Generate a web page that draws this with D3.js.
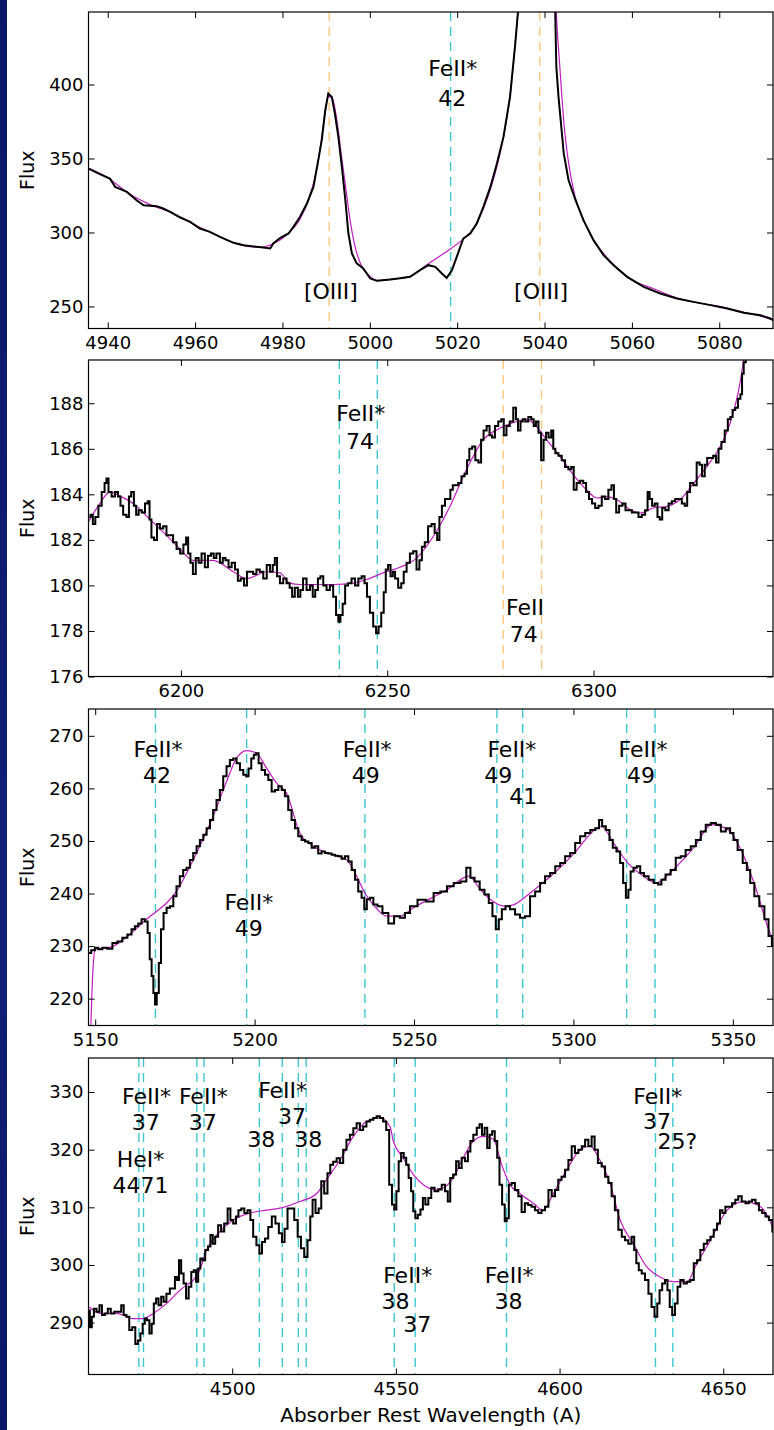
<!DOCTYPE html>
<html>
<head>
<meta charset="utf-8">
<script src="https://d3js.org/d3.v7.min.js"></script>
<style>
  body { margin: 0; background: #fff; }
  svg { display: block; font-family: "DejaVu Sans", sans-serif; }
  .tick text { font-size: 18px; fill: #000; font-family: "DejaVu Sans", sans-serif; }
  .tick line { stroke: #000; }
  .note { font-size: 22px; fill: #000; }
  .lab { font-size: 19px; fill: #000; }
  .xlab { font-size: 20px; fill: #000; }
</style>
</head>
<body>
<script>
// ---------- data (wavelength, flux) ----------
var p1Spec = [[4935.6,343.2],[4938.2,339.4],[4940.5,336.5],[4941.7,330.8],[4944.4,327.4],[4946.6,321.8],[4948.2,318.4],
  [4951.2,317.8],[4952.7,316.2],[4954.3,313.9],[4956.6,310.1],[4958.9,307.2],[4961.1,302.7],[4963.4,300.4],[4965.7,297.0],
  [4968.8,293.0],[4971.1,291.4],[4974.1,290.3],[4975.6,289.9],[4977.2,289.2],[4977.9,292.6],[4979.5,296.4],[4981.4,299.3],
  [4982.5,303.8],[4984.0,310.5],[4985.6,319.6],[4987.1,330.8],[4988.2,348.9],[4989.0,362.4],[4989.8,382.6],[4990.5,393.9],
  [4991.3,391.6],[4992.0,380.4],[4992.8,364.6],[4993.6,344.3],[4994.4,321.8],[4995.1,299.3],[4995.9,285.8],[4997.0,279.1],
  [4998.5,275.7],[5000.1,268.9],[5001.6,267.3],[5004.7,268.2],[5006.9,269.0],[5009.2,270.0],[5011.5,274.5],[5013.4,277.9],
  [5015.0,276.8],[5016.5,272.3],[5017.6,269.3],[5018.8,274.5],[5019.9,283.5],[5021.4,295.9],[5023.0,299.3],[5024.5,306.1],
  [5026.0,317.3],[5027.6,330.8],[5029.1,346.6],[5030.6,364.6],[5032.1,391.6],[5033.3,427.7],[5034.0,452],[5035.0,520],
  [5036.5,640],[5038.0,820],[5039.0,860],[5040.0,760],[5041.0,600],[5042.3,470],[5042.7,411.9],[5043.2,391.6],[5044.4,353.4],
  [5045.5,335.3],[5047.1,321.8],[5048.9,308.3],[5051.2,294.8],[5053.5,284.7],[5055.8,277.9],[5058.9,270.0],[5062.7,263.2],
  [5066.5,258.8],[5070.3,255.4],[5074.1,253.1],[5078.0,250.9],[5081.8,248.6],[5085.6,245.7],[5089.4,244.1],[5091.7,241.9],
  [5092.6,240.3]];
var p1Model = [[4935.6,343.5],[4940,337],[4945,326],[4950,318.5],[4955,313],[4960,305],[4965,298],[4970,292],[4975,290],
  [4978,292.5],[4981,298.5],[4984,309],[4986,322],[4988,345],[4989.5,375],[4990.5,392],[4991.5,390],[4992.5,375],[4993.5,352],
  [4994.5,330],[4995.5,308],[4996.5,292],[4998,278],[5000,270.5],[5002,267.5],[5005,268.5],[5009,270],[5013,278],[5017,286],
  [5021,294.5],[5023,300],[5026,316],[5028,333],[5030,356],[5032,390],[5033.3,428],[5034.2,460],[5036,560],[5038.8,800],
  [5041.5,560],[5042.5,460],[5043.5,412],[5044.5,372],[5045.5,347],[5047,324],[5049,308],[5051,296],[5054,284],[5057,275],
  [5060,268],[5065,262],[5070,256],[5075,252.5],[5080,250],[5085,246.5],[5090,243],[5092.6,240.5]];

var p2Spec = [[6177.8,183.0],[6178.4,183.1],[6178.9,182.7],[6179.6,183.0],[6180.4,183.5],[6181.2,184.1],[6181.8,184.5],
  [6182.1,184.7],[6182.8,184.1],[6183.6,183.9],[6184.4,184.1],[6185.1,183.9],[6185.6,183.5],[6186.4,183.1],[6187.2,183.0],
  [6187.6,183.9],[6188.3,184.1],[6188.9,183.5],[6189.4,183.1],[6190.1,183.3],[6190.9,183.2],[6191.7,183.6],[6192.2,183.7],
  [6192.6,182.9],[6193.1,182.1],[6193.9,182.0],[6194.5,182.7],[6195.3,182.5],[6196.1,182.6],[6196.9,182.2],[6197.7,182.2],
  [6198.5,181.9],[6199.4,181.6],[6200.2,181.4],[6201.0,181.8],[6201.5,182.1],[6202.0,181.4],[6202.6,181.0],[6203.2,180.5],
  [6204.0,181.2],[6204.6,181.0],[6205.4,181.4],[6206.2,180.8],[6206.9,181.3],[6207.7,181.4],[6208.2,181.2],[6209.0,181.4],
  [6209.9,181.0],[6210.4,181.2],[6211.2,181.1],[6211.9,180.8],[6212.7,181.0],[6213.5,180.7],[6214.1,180.2],[6214.9,180.3],
  [6215.7,180.0],[6216.3,180.6],[6217.1,180.6],[6217.9,180.5],[6218.7,180.7],[6219.5,180.6],[6220.4,180.3],[6221.2,180.9],
  [6222.0,180.6],[6222.5,180.9],[6223.0,181.2],[6223.6,180.4],[6224.4,180.1],[6225.2,180.3],[6226.0,180.1],[6226.7,179.9],
  [6227.2,179.5],[6228.0,179.9],[6228.7,179.5],[6229.2,179.8],[6230.0,180.3],[6230.9,179.8],[6231.7,180.0],[6232.2,179.5],
  [6232.9,179.8],[6233.5,180.3],[6234.1,180.4],[6234.9,180.0],[6235.7,179.8],[6236.5,180.0],[6237.3,179.5],[6237.9,178.7],
  [6238.4,178.4],[6238.9,178.7],[6239.5,179.2],[6240.1,180.0],[6240.9,180.1],[6241.8,180.3],[6242.6,180.0],[6243.4,180.3],
  [6244.2,180.4],[6244.8,180.1],[6245.4,179.5],[6246.2,178.8],[6247.0,178.2],[6247.6,177.9],[6248.2,178.2],[6248.9,178.8],
  [6249.4,179.7],[6249.9,180.7],[6250.5,180.9],[6251.1,180.4],[6251.6,180.6],[6252.2,180.3],[6253.1,179.9],[6253.7,180.1],
  [6254.3,180.6],[6255.1,181.0],[6255.9,181.4],[6256.7,181.5],[6257.5,180.7],[6258.1,181.1],[6258.7,181.7],[6259.5,181.9],
  [6260.3,182.6],[6261.2,182.7],[6261.8,182.3],[6262.4,182.0],[6262.9,183.0],[6263.6,183.5],[6264.4,183.8],[6265.0,183.8],
  [6265.6,184.2],[6266.2,184.4],[6266.8,184.4],[6267.6,184.5],[6268.4,184.8],[6269.1,184.9],[6269.6,185.5],[6270.2,186.0],
  [6271.0,186.1],[6271.7,185.5],[6272.5,185.4],[6273.0,186.4],[6273.7,186.8],[6274.5,187.0],[6275.1,186.6],[6275.7,186.5],
  [6276.5,187.0],[6277.3,187.2],[6278.0,187.3],[6278.5,186.6],[6279.3,187.0],[6280.1,187.2],[6281.0,187.8],[6281.4,187.3],
  [6282.0,186.8],[6282.6,187.2],[6283.1,187.3],[6283.8,187.2],[6284.6,187.4],[6285.2,187.3],[6285.8,187.0],[6286.3,187.2],
  [6287.0,186.7],[6287.6,185.5],[6288.2,186.4],[6288.8,186.7],[6289.4,186.5],[6290.1,186.8],[6290.4,186.0],[6291.1,185.8],
  [6291.9,185.7],[6292.7,185.5],[6293.5,185.2],[6294.3,185.1],[6294.9,185.2],[6295.5,184.2],[6296.3,184.5],[6297.1,184.6],
  [6297.9,184.5],[6298.5,184.1],[6299.3,183.8],[6300.0,183.6],[6300.8,183.4],[6301.6,183.5],[6302.4,183.9],[6303.2,183.8],
  [6304.0,184.2],[6304.7,184.4],[6305.2,183.8],[6305.8,183.2],[6306.6,183.5],[6307.4,183.6],[6308.1,183.3],[6308.9,183.3],
  [6309.7,183.2],[6310.5,183.2],[6311.3,183.0],[6312.1,183.1],[6312.9,183.3],[6313.3,184.1],[6313.9,183.8],[6314.5,183.5],
  [6315.2,183.6],[6315.8,183.0],[6316.3,182.9],[6317.0,183.4],[6317.8,183.3],[6318.6,183.6],[6319.4,183.7],[6320.2,183.8],
  [6321.0,183.8],[6321.8,183.6],[6322.4,183.5],[6323.0,184.1],[6323.8,184.5],[6324.6,184.4],[6325.4,185.4],[6326.0,185.3],
  [6326.6,184.8],[6327.3,185.3],[6327.8,185.6],[6328.6,185.6],[6329.4,185.7],[6330.0,185.4],[6330.6,186.0],[6331.4,186.3],
  [6332.2,186.8],[6332.9,187.3],[6333.4,187.4],[6334.0,187.7],[6334.7,187.8],[6335.3,188.2],[6335.9,188.4],[6336.1,189.3],
  [6336.7,189.8],[6337.1,190.3],[6338.5,191.5],[6340.5,193],[6343.5,195]];
var p2Model = [[6177.6,182.8],[6180,183.5],[6182.8,184.1],[6185.5,183.9],[6188.4,183.6],[6192.5,182.9],[6196.5,182.2],
  [6199.8,181.6],[6203.0,181.1],[6207.8,181.1],[6212.7,180.6],[6215.9,180.3],[6220.8,180.6],[6224.0,180.55],[6226.4,180.1],
  [6228.8,180.04],[6232.9,180.04],[6236.9,180.04],[6241.8,180.1],[6245.0,180.26],[6249.0,180.55],[6253.1,180.8],
  [6257.1,181.2],[6261.2,182.16],[6265.2,183.47],[6269.2,185.08],[6273.3,186.4],[6277.3,186.9],[6281.4,187.2],[6283.8,187.3],
  [6286.2,186.98],[6288.6,186.4],[6291.9,185.66],[6295.1,184.86],[6298.3,184.2],[6300.8,183.84],[6303.2,183.9],
  [6305.6,183.77],[6308.9,183.33],[6311.3,183.18],[6314.5,183.4],[6317.8,183.47],[6321.0,183.77],[6324.3,184.5],
  [6327.5,185.23],[6330.7,186.1],[6333.1,187.12],[6335.5,188.88],[6336.7,190.3],[6338.5,192],[6343.5,196]];

var p3Spec = [[5148.1,228.7],[5149.4,229.2],[5150.4,229.7],[5151.5,229.4],[5153.0,229.7],[5154.6,229.5],[5156.2,230.6],
  [5157.7,230.9],[5159.3,231.6],[5160.9,232.2],[5161.9,233.2],[5163.0,233.8],[5164.0,234.3],[5165.1,235.1],[5166.1,234.7],
  [5166.8,232.5],[5167.4,227.5],[5168.0,224.3],[5168.5,221.1],[5169.0,218.9],[5169.6,221.1],[5170.3,226.8],[5171.0,233.2],
  [5171.9,236.3],[5172.9,237.3],[5174.0,237.6],[5175.0,239.5],[5176.0,241.4],[5177.1,243.3],[5178.1,244.5],[5179.2,244.9],
  [5180.2,246.4],[5181.3,247.7],[5182.3,249.0],[5183.4,250.2],[5184.4,251.2],[5185.5,252.4],[5186.5,254.0],[5187.5,255.9],
  [5188.6,257.8],[5189.6,259.7],[5190.7,262.3],[5191.7,264.2],[5192.8,265.4],[5193.8,265.7],[5194.9,264.8],[5195.9,263.5],
  [5197.0,262.6],[5197.7,262.3],[5198.5,263.8],[5199.4,265.7],[5200.1,266.4],[5200.8,266.7],[5201.7,264.8],[5202.7,263.5],
  [5203.8,262.6],[5204.8,261.6],[5205.9,259.4],[5206.9,259.7],[5208.0,260.4],[5209.0,259.7],[5210.0,258.5],[5211.1,255.9],
  [5212.1,254.0],[5213.2,252.4],[5214.2,250.9],[5215.3,250.2],[5216.3,249.9],[5217.4,249.6],[5218.4,248.7],[5219.4,249.0],
  [5220.5,247.6],[5221.5,248.0],[5222.6,247.7],[5223.6,247.6],[5224.7,247.4],[5225.7,247.2],[5226.8,247.1],[5227.8,246.6],
  [5228.9,247.1],[5229.9,246.1],[5231.0,244.5],[5232.0,242.6],[5233.0,240.4],[5234.1,239.2],[5234.7,237.0],[5235.7,238.9],
  [5236.7,239.2],[5237.8,237.9],[5239.3,237.6],[5240.9,236.3],[5243.0,234.3],[5244.5,235.7],[5246.6,235.4],[5247.7,236.3],
  [5249.8,237.6],[5252.4,238.8],[5255.1,238.5],[5257.2,240.1],[5259.3,240.4],[5261.4,241.4],[5263.5,242.0],[5265.6,242.3],
  [5267.2,244.9],[5268.2,243.0],[5269.8,242.3],[5271.4,240.7],[5272.8,239.8],[5274.1,238.2],[5275.1,235.7],[5276.2,233.2],
  [5277.0,235.1],[5278.1,237.0],[5279.3,237.6],[5280.9,237.0],[5282.5,236.0],[5284.0,235.4],[5285.6,235.7],[5287.2,239.5],
  [5288.8,240.4],[5290.3,242.0],[5291.9,243.3],[5293.5,243.9],[5295.1,245.2],[5296.6,245.8],[5298.2,247.1],[5299.8,247.7],
  [5301.3,249.6],[5302.9,250.9],[5304.5,251.5],[5306.1,252.1],[5307.6,252.4],[5308.5,254.0],[5309.5,252.8],[5310.8,252.1],
  [5311.8,250.2],[5312.9,248.7],[5314.1,248.0],[5315.2,245.8],[5316.0,242.0],[5316.9,239.2],[5317.6,240.7],[5318.3,244.2],
  [5319.4,244.9],[5320.4,245.2],[5321.5,243.9],[5322.8,243.3],[5324.4,242.6],[5326.0,242.0],[5327.1,241.7],[5328.1,242.6],
  [5329.7,243.6],[5331.3,244.5],[5332.9,246.8],[5334.4,247.1],[5336.0,248.3],[5337.6,249.0],[5339.2,250.2],[5340.7,251.8],
  [5342.3,253.1],[5343.9,253.4],[5345.5,253.1],[5347.0,251.8],[5348.6,252.4],[5349.7,251.5],[5350.7,250.2],[5352.3,248.3],
  [5353.9,245.8],[5354.9,244.5],[5356.0,242.0],[5357.5,239.5],[5359.1,237.6],[5360.7,235.1],[5361.7,231.9],[5362.8,230.0]];
var p3Model = [[5148.2,205],[5148.8,218],[5149.4,226.5],[5150.0,229.4],[5155,229.8],[5160,231.8],[5166.1,235.1],[5169.2,236.6],
  [5172.4,238.2],[5175.5,240.4],[5178.7,243.9],[5182.8,249.0],[5187.0,254.7],[5191.2,261.3],[5194.3,265.7],[5197.5,267.2],
  [5200.6,266.7],[5203.8,263.8],[5206.9,261.0],[5210.0,259.1],[5214.2,251.5],[5218.4,249.0],[5224.7,247.4],[5228.9,246.4],
  [5232.0,243.3],[5234.6,240.1],[5237.2,237.9],[5241.4,235.7],[5245.6,235.7],[5249.8,237.3],[5260.3,240.7],[5267.2,243.3],
  [5270.9,240.7],[5274.1,238.8],[5278.3,237.6],[5281.4,237.9],[5284.6,239.2],[5287.7,240.7],[5294.0,243.9],[5300.3,247.7],
  [5306.6,252.1],[5308.7,252.8],[5312.9,249.3],[5317.1,245.8],[5321.3,243.6],[5326.0,242.0],[5330.7,244.2],[5338.1,249.0],
  [5343.3,253.1],[5348.6,252.1],[5352.8,248.0],[5357.0,241.4],[5361.2,233.2],[5363.3,230.0]];

var p4Spec = [[4456.3,292.1],[4456.7,289.2],[4457.5,291.0],[4458.0,292.4],[4459.1,291.9],[4459.8,293.0],[4460.6,291.3],
  [4461.6,291.6],[4462.4,292.4],[4463.4,291.6],[4464.5,291.9],[4465.7,291.9],[4466.5,293.0],[4467.2,291.3],[4468.2,291.0],
  [4468.9,288.7],[4470.0,289.2],[4470.8,286.3],[4471.6,286.9],[4472.3,288.1],[4473.0,289.8],[4473.6,290.7],[4474.3,290.4],
  [4475.1,288.1],[4475.7,289.8],[4476.4,293.3],[4477.1,294.2],[4477.9,293.0],[4478.7,294.5],[4479.4,293.6],[4480.4,295.0],
  [4481.5,295.9],[4482.2,295.9],[4482.8,297.9],[4483.5,297.4],[4484.0,300.8],[4484.8,298.5],[4485.5,296.8],[4486.3,294.2],
  [4487.1,296.2],[4487.9,298.8],[4488.6,299.1],[4489.3,297.1],[4489.9,299.4],[4490.6,301.1],[4491.3,300.8],[4492.2,302.6],
  [4493.0,303.2],[4493.7,305.2],[4494.4,303.7],[4495.2,304.9],[4496.2,306.9],[4497.0,305.8],[4498.1,307.2],[4499.1,309.8],
  [4499.8,307.8],[4500.8,307.2],[4501.5,308.4],[4502.3,309.5],[4503.2,309.8],[4504.2,309.0],[4505.2,309.5],[4505.9,307.8],
  [4506.9,304.9],[4507.9,303.4],[4508.7,302.0],[4509.5,304.0],[4510.5,304.6],[4511.5,306.6],[4512.7,308.4],[4513.7,307.2],
  [4514.8,305.5],[4515.6,304.0],[4516.4,306.3],[4517.4,309.8],[4518.4,309.8],[4519.5,307.8],[4520.5,304.9],[4521.5,302.9],
  [4522.5,301.4],[4523.5,304.3],[4524.2,308.4],[4524.9,311.3],[4526.0,309.0],[4526.8,309.8],[4527.6,314.5],[4528.6,312.4],
  [4529.6,315.9],[4530.3,317.4],[4531.4,317.9],[4532.4,318.5],[4533.4,317.7],[4534.4,320.0],[4535.4,321.7],[4536.5,322.6],
  [4537.5,323.7],[4538.5,324.6],[4539.5,323.4],[4540.5,324.0],[4541.5,324.9],[4542.6,325.2],[4543.6,325.5],[4544.6,325.8],
  [4545.6,325.5],[4546.6,324.9],[4547.5,323.4],[4548.4,313.9],[4549.2,310.5],[4549.8,309.6],[4550.5,312.8],[4551.2,318.0],
  [4552.0,319.4],[4552.8,318.6],[4553.5,317.4],[4554.3,315.1],[4555.0,312.8],[4555.6,309.3],[4556.3,308.1],[4557.1,308.7],
  [4557.9,309.6],[4558.6,311.6],[4559.4,310.5],[4560.4,311.6],[4561.2,313.4],[4562.4,312.8],[4563.5,313.1],[4564.5,313.9],
  [4565.5,312.8],[4566.2,311.0],[4567.0,315.1],[4568.0,315.7],[4568.8,318.0],[4569.6,316.8],[4570.6,318.6],[4571.6,318.0],
  [4572.4,319.7],[4573.1,321.5],[4574.2,322.6],[4575.2,323.8],[4575.9,324.4],[4576.7,322.6],[4577.5,323.8],[4578.3,320.3],
  [4579.0,322.6],[4579.8,323.2],[4580.6,321.5],[4581.3,318.6],[4582.0,313.9],[4582.9,310.5],[4583.6,307.6],[4584.1,308.1],
  [4584.9,313.9],[4585.8,314.2],[4586.9,313.0],[4587.9,311.9],[4588.9,309.2],[4589.9,310.7],[4590.9,310.4],[4592.0,310.1],
  [4593.0,309.5],[4594.0,309.0],[4595.0,309.5],[4596.1,310.1],[4597.1,313.0],[4598.1,311.9],[4599.1,313.0],[4600.1,314.8],
  [4601.1,315.3],[4602.2,316.5],[4603.2,318.2],[4604.2,320.6],[4605.2,319.4],[4606.3,320.0],[4607.3,320.6],[4608.3,321.7],
  [4609.3,320.6],[4610.3,322.3],[4611.1,320.0],[4612.3,317.7],[4613.4,317.1],[4614.4,315.3],[4615.4,314.2],[4616.4,311.9],
  [4617.4,309.5],[4618.5,306.1],[4619.5,304.9],[4620.5,304.3],[4621.5,303.7],[4622.5,304.9],[4623.1,302.6],[4623.8,300.3],
  [4624.6,299.1],[4625.6,298.5],[4626.6,297.4],[4627.7,295.0],[4628.5,292.7],[4629.5,291.0],[4630.2,293.3],[4630.9,295.6],
  [4631.8,296.8],[4632.6,297.4],[4633.3,295.6],[4634.0,292.7],[4634.8,291.3],[4635.7,293.3],[4636.4,296.2],[4637.4,297.4],
  [4638.4,296.8],[4639.4,297.1],[4640.5,297.4],[4641.5,300.3],[4642.5,300.8],[4643.5,302.6],[4644.6,303.7],[4645.6,304.3],
  [4646.6,304.9],[4647.6,306.1],[4648.6,307.2],[4649.4,309.5],[4650.1,309.0],[4651.2,310.1],[4652.2,310.1],[4653.2,310.7],
  [4654.2,311.3],[4655.0,311.9],[4656.3,311.0],[4657.3,310.7],[4658.3,311.0],[4659.3,311.3],[4660.4,310.7],[4661.4,309.5],
  [4662.4,309.0],[4663.4,308.4],[4664.5,307.8],[4665.5,305.8]];
var p4Model = [[4456.3,292.7],[4459.6,291.6],[4464.7,291.6],[4469.8,290.7],[4472.8,290.7],[4475.9,291.6],[4479.9,293.3],
  [4484.0,295.6],[4486.0,296.5],[4488.0,297.3],[4490.0,299.0],[4492.2,302.6],[4496.2,305.8],[4500.3,307.8],[4505.4,309.0],
  [4510.5,309.5],[4515.6,310.0],[4520.7,311.0],[4525.8,312.4],[4528.8,314.8],[4532.9,318.2],[4537.0,322.3],[4541.0,324.9],
  [4545.1,325.5],[4548.2,324.0],[4549.2,321.5],[4552.2,318.6],[4555.3,315.7],[4558.4,313.9],[4561.4,313.1],[4564.5,313.4],
  [4567.5,315.1],[4570.6,318.6],[4573.7,321.5],[4576.7,322.3],[4579.8,321.8],[4582.3,317.4],[4584.9,313.9],[4587.9,312.4],
  [4592.0,310.7],[4595.0,309.5],[4598.1,312.4],[4602.2,316.5],[4606.3,320.0],[4609.3,320.6],[4612.3,318.2],[4615.4,314.2],
  [4618.5,307.8],[4622.5,303.7],[4626.6,299.7],[4630.7,297.9],[4634.8,297.1],[4638.9,297.1],[4642.0,300.3],[4646.1,304.3],
  [4651.2,309.5],[4656.3,311.0],[4661.4,310.1],[4665.5,306.1]];

// marker lines (wavelength)
var p1Cyan = [5018.5], p1Orange = [4990.7, 5038.9];
var p2Cyan = [6238.4, 6247.6], p2Orange = [6278.1, 6287.4];
var p3Cyan = [5168.9, 5197.5, 5234.6, 5276.0, 5284.1, 5316.7, 5325.6], p3Orange = [];
var p4Cyan = [4471.5, 4472.9, 4489.2, 4491.4, 4508.3, 4515.3, 4520.2, 4522.6, 4549.5, 4555.9, 4583.8, 4629.3, 4634.6], p4Orange = [];

// annotations: [wavelength, flux baseline, text]
var p1Notes = [[5019.0,405.6,"FeII*"],[5018.9,385.3,"42"],[4991.1,254.9,"[OIII]"],[5039.2,254.9,"[OIII]"]];
var p2Notes = [[6243.6,187.2,"FeII*"],[6243.4,186.0,"74"],[6283.4,178.7,"FeII"],[6283.1,177.5,"74"]];
var p3Notes = [[5169.7,265.9,"FeII*"],[5169.4,261.0,"42"],[5198.2,236.8,"FeII*"],[5198.2,232.0,"49"],
  [5235.3,265.9,"FeII*"],[5234.9,261.0,"49"],[5280.7,265.9,"FeII*"],[5276.4,261.0,"49"],[5284.3,257.1,"41"],
  [5321.8,265.9,"FeII*"],[5321.2,261.0,"49"]];
var p4Notes = [[4473.8,327.9,"FeII*"],[4473.6,323.4,"37"],[4491.2,327.9,"FeII*"],[4491.0,323.4,"37"],
  [4515.4,329.0,"FeII*"],[4518.3,324.5,"37"],[4508.9,320.5,"38"],[4523.2,320.5,"38"],
  [4472.0,317.0,"HeI*"],[4472.0,312.5,"4471"],
  [4553.6,296.8,"FeII*"],[4549.9,292.4,"38"],[4556.5,288.4,"37"],
  [4584.6,296.8,"FeII*"],[4584.4,292.4,"38"],
  [4630.0,328.0,"FeII*"],[4629.8,323.6,"37"],[4636.0,320.1,"25?"]];

// axis ranges and ticks
var p1XDom = [4935.6, 5092.3], p1YDom = [235.1, 449.0];
var p2XDom = [6177.6, 6343.5], p2YDom = [176.0, 189.9];
var p3XDom = [5147.9, 5362.6], p3YDom = [214.9, 275.1];
var p4XDom = [4456.1, 4665.2], p4YDom = [281.0, 335.9];
var p1XTicks = [4940, 4960, 4980, 5000, 5020, 5040, 5060, 5080], p1YTicks = [250, 300, 350, 400];
var p2XTicks = [6200, 6250, 6300], p2YTicks = [176, 178, 180, 182, 184, 186, 188];
var p3XTicks = [5150, 5200, 5250, 5300, 5350], p3YTicks = [220, 230, 240, 250, 260, 270];
var p4XTicks = [4500, 4550, 4600, 4650], p4YTicks = [290, 300, 310, 320, 330];

var panels = [
  { spec: p1Spec, model: p1Model, xd: p1XDom, yd: p1YDom, xt: p1XTicks, yt: p1YTicks, cyan: p1Cyan, orange: p1Orange, notes: p1Notes, step: false },
  { spec: p2Spec, model: p2Model, xd: p2XDom, yd: p2YDom, xt: p2XTicks, yt: p2YTicks, cyan: p2Cyan, orange: p2Orange, notes: p2Notes, step: true },
  { spec: p3Spec, model: p3Model, xd: p3XDom, yd: p3YDom, xt: p3XTicks, yt: p3YTicks, cyan: p3Cyan, orange: p3Orange, notes: p3Notes, step: true },
  { spec: p4Spec, model: p4Model, xd: p4XDom, yd: p4YDom, xt: p4XTicks, yt: p4YTicks, cyan: p4Cyan, orange: p4Orange, notes: p4Notes, step: true }
];

// ---------- layout ----------
var W = 774, H = 1430;
var left = 88.5, right = 773, ph = 316.5;
var tops = [12, 360, 709, 1058];
var pw = right - left;

var svg = d3.select("body").append("svg").attr("width", W).attr("height", H);

// dark strip at the left edge
var defs = svg.append("defs");
var grad = defs.append("linearGradient").attr("id", "strip").attr("x1", 0).attr("x2", 0).attr("y1", 0).attr("y2", 1);
grad.append("stop").attr("offset", "0%").attr("stop-color", "#0a1766");
grad.append("stop").attr("offset", "65%").attr("stop-color", "#0f1f78");
grad.append("stop").attr("offset", "100%").attr("stop-color", "#0a1766");
svg.append("rect").attr("x", 0).attr("y", 0).attr("width", 7).attr("height", H).attr("fill", "url(#strip)");

panels.forEach(function (p, i) {
  var g = svg.append("g").attr("transform", "translate(" + left + "," + tops[i] + ")");
  var x = d3.scaleLinear().domain(p.xd).range([0, pw]);
  var y = d3.scaleLinear().domain(p.yd).range([ph, 0]);

  defs.append("clipPath").attr("id", "clip" + i)
    .append("rect").attr("width", pw).attr("height", ph);
  var plot = g.append("g").attr("clip-path", "url(#clip" + i + ")");

  // marker lines
  plot.selectAll(".cy").data(p.cyan).enter().append("line")
    .attr("x1", d => x(d)).attr("x2", d => x(d)).attr("y1", 0).attr("y2", ph)
    .attr("stroke", "#3ec6cf").attr("stroke-width", 1.4).attr("stroke-dasharray", "9,6");
  plot.selectAll(".or").data(p.orange).enter().append("line")
    .attr("x1", d => x(d)).attr("x2", d => x(d)).attr("y1", 0).attr("y2", ph)
    .attr("stroke", "#fdc77c").attr("stroke-width", 1.4).attr("stroke-dasharray", "9,6");

  // spectrum and fitted model
  var spec = d3.line().x(d => x(d[0])).y(d => y(d[1])).curve(p.step ? d3.curveStep : d3.curveLinear);
  var mod = d3.line().x(d => x(d[0])).y(d => y(d[1])).curve(d3.curveMonotoneX);
  plot.append("path").datum(p.model).attr("d", mod)
    .attr("fill", "none").attr("stroke", "#c21cc2").attr("stroke-width", 1.2);
  plot.append("path").datum(p.spec).attr("d", spec)
    .attr("fill", "none").attr("stroke", "#000").attr("stroke-width", 2).attr("stroke-linejoin", "miter");

  // annotations
  g.selectAll(".note").data(p.notes).enter().append("text")
    .attr("class", "note")
    .attr("x", d => x(d[0])).attr("y", d => y(d[1]))
    .attr("text-anchor", "middle")
    .text(d => d[2]);

  // axes, inward ticks on all sides
  var xb = g.append("g").attr("transform", "translate(0," + ph + ")")
    .call(d3.axisBottom(x).tickValues(p.xt).tickFormat(d3.format("d")).tickSizeInner(-6).tickSizeOuter(0).tickPadding(8));
  var xt = g.append("g")
    .call(d3.axisTop(x).tickValues(p.xt).tickFormat("").tickSizeInner(-6).tickSizeOuter(0));
  var yl = g.append("g")
    .call(d3.axisLeft(y).tickValues(p.yt).tickFormat(d3.format("d")).tickSizeInner(-6).tickSizeOuter(0).tickPadding(5));
  var yr = g.append("g").attr("transform", "translate(" + pw + ",0)")
    .call(d3.axisRight(y).tickValues(p.yt).tickFormat("").tickSizeInner(-6).tickSizeOuter(0));
  [xb, xt, yl, yr].forEach(function (a) { a.select(".domain").remove(); a.selectAll(".tick line").attr("stroke-width", 1); });

  g.append("rect").attr("width", pw).attr("height", ph)
    .attr("fill", "none").attr("stroke", "#000").attr("stroke-width", 1.2);

  g.append("text").attr("class", "lab")
    .attr("transform", "translate(" + (34 - left) + "," + (ph / 2) + ") rotate(-90)")
    .attr("text-anchor", "middle").text("Flux");
});

svg.append("text").attr("class", "xlab")
  .attr("x", left + pw / 2).attr("y", 1422)
  .attr("text-anchor", "middle").text("Absorber Rest Wavelength (A)");
</script>
</body>
</html>
